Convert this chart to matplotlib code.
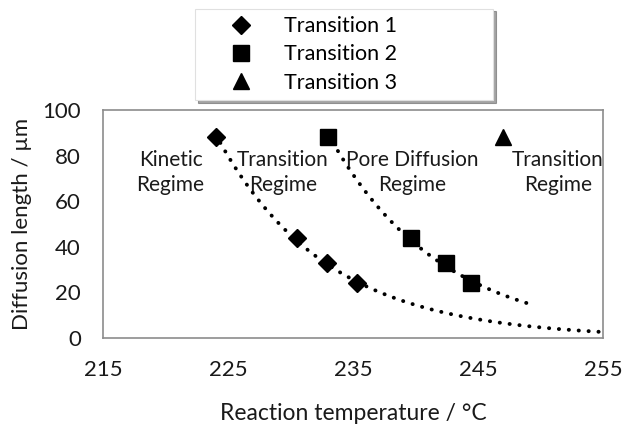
import matplotlib

matplotlib.use("Agg")
import matplotlib.pyplot as plt
import numpy as np

plt.rcParams["font.family"] = ["Lato", "DejaVu Sans"]

# Values
t1_temp = [224.0, 230.5, 232.9, 235.3]
t1_length = [88, 44, 33, 24]
t2_temp = [233.0, 239.6, 242.4, 244.4]
t2_length = [88, 44, 33, 24]
t3_temp = [247.0]
t3_length = [88]

# Trendline extents (exponential fit, forecast forward)
t1_fit_range = (224.0, 255.0)
t2_fit_range = (233.0, 249.2)

regime_labels = ["Kinetic\nRegime", "Transition\nRegime", "Pore Diffusion\nRegime", "Transition\nRegime"]
regime_x = [220.4, 229.4, 239.7, 251.4]
regime_y = 72.5


def exp_trend(x, y, x_range):
    slope, intercept = np.polyfit(x, np.log(y), 1)
    xs = np.linspace(x_range[0], x_range[1], 200)
    return xs, np.exp(intercept + slope * xs)


fig = plt.figure(figsize=(6.22, 4.24), dpi=100)
ax = fig.add_axes([0.1656, 0.2028, 0.8039, 0.5378])

dot_style = dict(color="black", linewidth=2.8, linestyle=(0, (0.05, 2.5)),
                 dash_capstyle="round", zorder=2)
for x, y, rng in [(t1_temp, t1_length, t1_fit_range), (t2_temp, t2_length, t2_fit_range)]:
    xs, ys = exp_trend(x, y, rng)
    ax.plot(xs, ys, **dot_style)

ax.plot(t1_temp, t1_length, linestyle="none", marker="D", markersize=9,
        color="black", label="Transition 1", zorder=3)
ax.plot(t2_temp, t2_length, linestyle="none", marker="s", markersize=11,
        color="black", label="Transition 2", zorder=3)
ax.plot(t3_temp, t3_length, linestyle="none", marker="^", markersize=11,
        color="black", label="Transition 3", zorder=3)

for label, x in zip(regime_labels, regime_x):
    ax.text(x, regime_y, label, ha="center", va="center", fontsize=15,
            linespacing=1.35, color="#1a1a1a")

ax.set_xlim(215, 255)
ax.set_ylim(0, 100)
ax.set_xticks([215, 225, 235, 245, 255])
ax.set_yticks([0, 20, 40, 60, 80, 100])
ax.tick_params(length=0, labelsize=16, colors="#1a1a1a")
ax.tick_params(axis="x", pad=16)
ax.tick_params(axis="y", pad=16)
for spine in ax.spines.values():
    spine.set_color("#8c8c8c")
    spine.set_linewidth(1.2)

ax.set_xlabel("Reaction temperature / °C", fontsize=16.5, color="#1a1a1a")
ax.set_ylabel("Diffusion length / µm", fontsize=16, color="#1a1a1a")
ax.xaxis.set_label_coords(0.5, -0.285)
ax.yaxis.set_label_coords(-0.142, 0.5)

legend = fig.legend(loc="lower left", bbox_to_anchor=(0.3135, 0.764, 0.479, 0.3),
                    mode="expand", frameon=True, fancybox=False, shadow=True,
                    fontsize=15.5, handletextpad=0.2, borderpad=0.35,
                    labelspacing=0.38, handlelength=3.6, borderaxespad=0)
legend.get_frame().set_edgecolor("#e0e0e0")
legend.get_frame().set_linewidth(0.8)

fig.savefig("out.png", dpi=100)
plt.close(fig)
